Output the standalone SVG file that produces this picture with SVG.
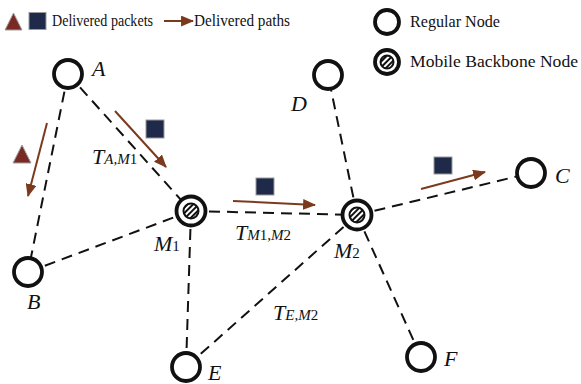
<svg xmlns="http://www.w3.org/2000/svg" width="581" height="384" viewBox="0 0 581 384">
<style>
.edge{stroke:#111;stroke-width:2;stroke-dasharray:11 7;fill:none}
.node{fill:#fff;stroke:#111;stroke-width:3.8}
.inner{fill:url(#hatch);stroke:#111;stroke-width:2}
.path{stroke:#7b3a1e;stroke-width:2;fill:none;marker-end:url(#ah)}
.pkt{fill:#1f2a4a;stroke:#9a9a9a;stroke-width:1}
.tri{fill:#7a2a25;stroke:#a0a0a0;stroke-width:1}
.leg{font-family:"Liberation Serif",serif;font-size:16px;fill:#111}
.lbl{font-family:"Liberation Serif",serif;font-size:22px;font-style:italic;fill:#111}
.sub{font-size:15px}
.up{font-style:normal}
</style>
<defs>
<pattern id="hatch" patternUnits="userSpaceOnUse" width="4" height="4" patternTransform="rotate(45)">
<rect width="4" height="4" fill="#fff"/>
<rect x="0" y="0" width="2" height="4" fill="#111"/>
</pattern>
<marker id="ah" viewBox="0 0 12 10" refX="11" refY="5" markerWidth="6.5" markerHeight="5.5" orient="auto" markerUnits="strokeWidth">
<path d="M0,0 L12,5 L0,10 z" fill="#7b3a1e"/>
</marker>
</defs>

<g id="legend">
<polygon class="tri" points="13.5,13 22,30 5,30"/>
<rect class="pkt" x="29" y="12.5" width="17" height="17"/>
<text class="leg" x="52" y="26" textLength="101" lengthAdjust="spacingAndGlyphs">Delivered packets</text>
<line class="path" x1="164" y1="21" x2="193" y2="21"/>
<text class="leg" x="194" y="26" textLength="96" lengthAdjust="spacingAndGlyphs">Delivered paths</text>
<circle class="node" cx="387" cy="22" r="12"/>
<text class="leg" x="410" y="27" textLength="90" lengthAdjust="spacingAndGlyphs">Regular Node</text>
<circle class="node" cx="387" cy="62" r="12"/>
<circle class="inner" cx="387" cy="62" r="6.5"/>
<text class="leg" x="410" y="67" textLength="168" lengthAdjust="spacingAndGlyphs">Mobile Backbone Node</text>
</g>

<g id="connectors">
<line class="edge" x1="68" y1="74" x2="28" y2="272"/>
<line class="edge" x1="68" y1="74" x2="191" y2="211"/>
<line class="edge" x1="28" y1="272" x2="191" y2="211"/>
<line class="edge" x1="191" y1="211" x2="186" y2="367"/>
<line class="edge" x1="191" y1="211" x2="357" y2="215"/>
<line class="edge" x1="357" y1="215" x2="328" y2="75"/>
<line class="edge" x1="357" y1="215" x2="531" y2="173"/>
<line class="edge" x1="357" y1="215" x2="186" y2="367"/>
<line class="edge" x1="357" y1="215" x2="421" y2="357"/>
</g>

<g id="flows">
<line class="path" x1="47" y1="123" x2="28" y2="196"/>
<polygon class="tri" points="22,145 31,163 13,163"/>
<line class="path" x1="115" y1="111" x2="166" y2="167"/>
<rect class="pkt" x="146" y="120" width="18" height="18"/>
<line class="path" x1="233" y1="201" x2="315" y2="205"/>
<rect class="pkt" x="256" y="178" width="18" height="17"/>
<line class="path" x1="421" y1="189" x2="485" y2="172"/>
<rect class="pkt" x="434" y="157" width="18" height="17"/>
</g>

<g id="A"><circle class="node" cx="68" cy="74" r="14"/><text class="lbl" x="92" y="76">A</text></g>
<g id="B"><circle class="node" cx="28" cy="272" r="14"/><text class="lbl" x="27" y="309">B</text></g>
<g id="D"><circle class="node" cx="328" cy="75" r="14"/><text class="lbl" x="291" y="111">D</text></g>
<g id="C"><circle class="node" cx="531" cy="173" r="14"/><text class="lbl" x="555" y="183">C</text></g>
<g id="E"><circle class="node" cx="186" cy="367" r="14"/><text class="lbl" x="208" y="380">E</text></g>
<g id="F"><circle class="node" cx="421" cy="357" r="14"/><text class="lbl" x="444" y="366">F</text></g>
<g id="M1"><circle class="node" cx="191" cy="211" r="14.5"/><circle class="inner" cx="191" cy="211" r="7.5"/><text class="lbl" x="154" y="251">M<tspan class="sub up">1</tspan></text></g>
<g id="M2"><circle class="node" cx="357" cy="215" r="14.5"/><circle class="inner" cx="357" cy="215" r="7.5"/><text class="lbl" x="334" y="258">M<tspan class="sub up">2</tspan></text></g>

<g id="labels">
<text class="lbl" x="92" y="164">T<tspan class="sub">A,M</tspan><tspan class="sub up">1</tspan></text>
<text class="lbl" x="235" y="240">T<tspan class="sub">M</tspan><tspan class="sub up">1</tspan><tspan class="sub">,M</tspan><tspan class="sub up">2</tspan></text>
<text class="lbl" x="273" y="320">T<tspan class="sub">E,M</tspan><tspan class="sub up">2</tspan></text>
</g>
</svg>
